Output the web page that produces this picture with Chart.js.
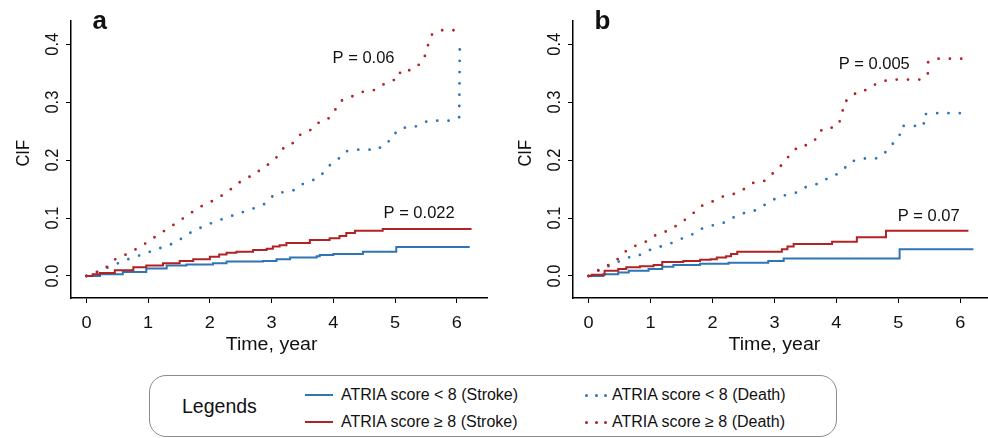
<!DOCTYPE html>
<html>
<head>
<meta charset="utf-8">
<script src="https://cdn.jsdelivr.net/npm/chart.js@4.4.0/dist/chart.umd.min.js"></script>
<style>
  body { margin: 0; background: #fff; }
  #wrap { position: relative; width: 988px; height: 438px; overflow: hidden; font-family: "Liberation Sans", Arial, sans-serif; color: #111; }
  canvas { position: absolute; top: 0; }
  #legend { position: absolute; left: 149px; top: 375px; width: 686px; height: 60px; border: 1px solid #8c8c8c; border-radius: 17px; }
  .lg { position: absolute; white-space: nowrap; line-height: 20px; }
  .ln { position: absolute; height: 2px; width: 28px; }
  .dot { position: absolute; width: 3px; height: 3px; border-radius: 50%; }
</style>
</head>
<body>
<div id="wrap">
  <canvas id="chartA" width="494" height="360" style="left:0"></canvas>
  <canvas id="chartB" width="486" height="360" style="left:502px"></canvas>
  <div id="legend"></div>
</div>
<script>
// axis ticks
const xTicks = [0, 1, 2, 3, 4, 5, 6];
const yTicks = [0, 0.1, 0.2, 0.3, 0.4];
const yTickLabels = ['0.0', '0.1', '0.2', '0.3', '0.4'];
const seriesNames = ['ATRIA score < 8 (Stroke)', 'ATRIA score \u2265 8 (Stroke)', 'ATRIA score < 8 (Death)', 'ATRIA score \u2265 8 (Death)'];
const blue = '#2e75b6';
const red = '#b22222';

// panel a, [time, CIF]
const aStrokeLow = [[0,0],[0.22,0.003],[0.59,0.007],[0.97,0.013],[1.3,0.018],[1.62,0.020],[2.05,0.022],[2.27,0.025],[2.86,0.026],[3.08,0.029],[3.3,0.032],[3.73,0.034],[3.78,0.036],[4.0,0.038],[4.48,0.042],[5.02,0.050],[6.21,0.050]];
const aStrokeHigh = [[0,0],[0.1,0.003],[0.22,0.005],[0.46,0.010],[0.76,0.015],[0.97,0.018],[1.24,0.022],[1.51,0.026],[1.73,0.029],[2.0,0.033],[2.15,0.037],[2.27,0.040],[2.43,0.042],[2.7,0.045],[2.92,0.047],[3.02,0.051],[3.13,0.053],[3.24,0.057],[3.62,0.062],[3.94,0.065],[4.1,0.069],[4.21,0.074],[4.35,0.078],[4.8,0.081],[6.24,0.081]];
const aDeathLow = [[0,0],[0.38,0.016],[0.65,0.028],[0.93,0.038],[1.19,0.048],[1.43,0.057],[1.69,0.075],[1.94,0.088],[2.2,0.098],[2.47,0.108],[2.72,0.117],[2.88,0.124],[2.97,0.133],[3.06,0.142],[3.21,0.145],[3.36,0.148],[3.47,0.157],[3.6,0.163],[3.74,0.168],[3.83,0.177],[3.91,0.188],[4.01,0.197],[4.12,0.205],[4.2,0.215],[4.36,0.218],[4.73,0.218],[4.81,0.229],[4.94,0.234],[5.01,0.247],[5.11,0.256],[5.29,0.256],[5.42,0.262],[5.54,0.268],[5.91,0.268],[6.04,0.274],[6.05,0.404],[6.09,0.404]];
const aDeathHigh = [[0,0],[0.27,0.010],[0.47,0.029],[0.72,0.041],[0.94,0.055],[1.16,0.071],[1.38,0.086],[1.6,0.102],[1.82,0.118],[2.07,0.131],[2.29,0.145],[2.45,0.160],[2.62,0.169],[2.72,0.179],[2.85,0.183],[2.95,0.193],[3.05,0.202],[3.14,0.211],[3.21,0.224],[3.34,0.229],[3.42,0.240],[3.52,0.248],[3.66,0.253],[3.75,0.264],[3.89,0.268],[3.98,0.279],[4.05,0.290],[4.12,0.302],[4.25,0.307],[4.38,0.314],[4.51,0.319],[4.68,0.321],[4.79,0.329],[4.9,0.336],[5.06,0.340],[5.09,0.355],[5.27,0.355],[5.38,0.364],[5.47,0.373],[5.5,0.388],[5.55,0.403],[5.6,0.417],[5.73,0.424],[6.09,0.424]];

// panel b
const bStrokeLow = [[0,0],[0.24,0.003],[0.48,0.006],[0.65,0.009],[0.97,0.012],[1.19,0.016],[1.37,0.019],[1.8,0.021],[2.26,0.023],[2.9,0.026],[3.15,0.030],[5.02,0.046],[6.21,0.046]];
const bStrokeHigh = [[0,0],[0.05,0.002],[0.26,0.009],[0.48,0.012],[0.61,0.015],[0.83,0.017],[1.05,0.019],[1.19,0.024],[1.53,0.026],[1.8,0.028],[1.97,0.029],[2.07,0.032],[2.22,0.034],[2.3,0.038],[2.4,0.042],[3.12,0.046],[3.21,0.051],[3.31,0.055],[3.93,0.059],[4.33,0.067],[4.8,0.078],[6.13,0.078]];
const bDeathLow = [[0,0],[0.11,0.007],[0.23,0.015],[0.37,0.018],[0.49,0.025],[0.63,0.032],[0.78,0.033],[0.9,0.041],[1.04,0.047],[1.17,0.051],[1.3,0.055],[1.43,0.061],[1.56,0.067],[1.68,0.072],[1.81,0.081],[1.94,0.085],[2.08,0.090],[2.23,0.093],[2.34,0.101],[2.48,0.108],[2.62,0.110],[2.75,0.116],[2.86,0.124],[2.97,0.131],[3.09,0.137],[3.24,0.141],[3.39,0.145],[3.5,0.153],[3.64,0.157],[3.78,0.162],[3.88,0.171],[4.02,0.176],[4.12,0.184],[4.2,0.195],[4.33,0.201],[4.48,0.203],[4.66,0.203],[4.77,0.211],[4.86,0.222],[4.94,0.232],[5.02,0.243],[5.05,0.259],[5.41,0.259],[5.41,0.279],[5.57,0.281],[6.12,0.281]];
const bDeathHigh = [[0,0],[0.12,0.006],[0.23,0.015],[0.35,0.020],[0.47,0.029],[0.56,0.038],[0.65,0.048],[0.78,0.053],[0.91,0.058],[1.02,0.067],[1.15,0.074],[1.29,0.078],[1.39,0.085],[1.5,0.092],[1.61,0.102],[1.71,0.110],[1.8,0.120],[1.94,0.125],[2.06,0.132],[2.19,0.138],[2.33,0.141],[2.46,0.146],[2.57,0.155],[2.68,0.162],[2.84,0.164],[2.94,0.174],[3.03,0.182],[3.13,0.193],[3.21,0.204],[3.3,0.213],[3.38,0.224],[3.54,0.226],[3.65,0.234],[3.71,0.247],[3.81,0.256],[3.98,0.256],[4.06,0.268],[4.1,0.284],[4.12,0.300],[4.24,0.307],[4.33,0.318],[4.48,0.321],[4.59,0.329],[4.71,0.334],[4.85,0.339],[5.39,0.339],[5.48,0.350],[5.48,0.369],[5.61,0.375],[6.03,0.375]];

// p-value labels: [text, time, CIF] of text anchor
const pLabelsA = [['P = 0.06', 4.49, 0.368], ['P = 0.022', 5.39, 0.0995]];
const pLabelsB = [['P = 0.005', 4.61, 0.357], ['P = 0.07', 5.49, 0.0948]];

const FONT = '"Liberation Sans", Arial, sans-serif';

function toPts(arr) {
    return arr.map(p => ({ x: p[0], y: p[1] }));
}

// each stroke point holds its value from that time on
function solid(arr, color) {
    return { data: toPts(arr), borderColor: color, borderWidth: 2, stepped: 'before', pointRadius: 0, fill: false };
}

function dotted(arr, color) {
    return { data: toPts(arr), borderColor: color, borderWidth: 2.8, borderDash: [0, 11.3], borderCapStyle: 'round', pointRadius: 0, fill: false, tension: 0 };
}

function txt(ctx, s, x, y, sx, rot) {
    ctx.save();
    ctx.translate(x, y);
    ctx.scale(sx, 1);
    if (rot) ctx.rotate(-Math.PI / 2);
    ctx.fillText(s, 0, 0);
    ctx.restore();
}

const panelText = {
    id: 'panelText',
    afterDraw(chart, args, opts) {
        const ctx = chart.ctx;
        const xs = chart.scales.x, ys = chart.scales.y, area = chart.chartArea;
        ctx.save();
        ctx.fillStyle = '#111';
        ctx.textBaseline = 'alphabetic';
        ctx.textAlign = 'center';
        // x tick labels
        ctx.font = '16.5px ' + FONT;
        xTicks.forEach(v => txt(ctx, String(v), xs.getPixelForValue(v), area.bottom + 30, 1.1, false));
        // y tick labels (vertical)
        yTicks.forEach((v, i) => txt(ctx, yTickLabels[i], area.left - 12.7, ys.getPixelForValue(v), 1.12, true));
        // axis titles
        ctx.font = '17.5px ' + FONT;
        const midX = xs.getPixelForValue((xTicks[0] + xTicks[xTicks.length - 1]) / 2);
        txt(ctx, 'Time, year', midX, area.bottom + 52, 1.12, false);
        ctx.font = '16.5px ' + FONT;
        txt(ctx, 'CIF', area.left - 41.7, 153.3, 1.12, true);
        // p values
        ctx.font = '16.5px ' + FONT;
        opts.pLabels.forEach(p => txt(ctx, p[0], xs.getPixelForValue(p[1]), ys.getPixelForValue(p[2]), 1, false));
        // panel letter
        ctx.font = 'bold 26px ' + FONT;
        ctx.textAlign = 'left';
        txt(ctx, opts.letter, area.left + 21.5, 29.3, 1, false);
        ctx.restore();
    }
};

function makeChart(id, sets, xMax, padRight, letter, pLabels) {
    return new Chart(document.getElementById(id), {
        type: 'line',
        data: {
            datasets: [
                solid(sets[1], red),
                solid(sets[0], blue),
                dotted(sets[3], red),
                dotted(sets[2], blue)
            ]
        },
        options: {
            responsive: false,
            animation: false,
            devicePixelRatio: 1,
            layout: { padding: { top: 21, right: padRight, bottom: 0, left: 0 } },
            plugins: {
                legend: { display: false },
                tooltip: { enabled: false },
                panelText: { letter: letter, pLabels: pLabels }
            },
            scales: {
                x: {
                    type: 'linear',
                    min: -0.25,
                    max: xMax,
                    afterBuildTicks: s => { s.ticks = xTicks.map(v => ({ value: v })); },
                    afterFit: s => { s.height = 62; },
                    ticks: { display: false },
                    grid: { drawOnChartArea: false, drawTicks: true, tickLength: 5, color: '#000', lineWidth: 1 },
                    border: { display: true, color: '#000', width: 1.5 }
                },
                y: {
                    type: 'linear',
                    min: -0.038,
                    max: 0.44,
                    afterBuildTicks: s => { s.ticks = yTicks.map(v => ({ value: v })); },
                    afterFit: s => { s.width = 71; },
                    ticks: { display: false },
                    grid: { drawOnChartArea: false, drawTicks: true, tickLength: 5, color: '#000', lineWidth: 1 },
                    border: { display: true, color: '#000', width: 1.5 }
                }
            }
        },
        plugins: [panelText]
    });
}

makeChart('chartA', [aStrokeLow, aStrokeHigh, aDeathLow, aDeathHigh], 6.49, 7, 'a', pLabelsA);
makeChart('chartB', [bStrokeLow, bStrokeHigh, bDeathLow, bDeathHigh], 6.43, 1, 'b', pLabelsB);

// legend box
const legend = document.getElementById('legend');
const colors = [blue, red, blue, red];
let html = '<div class="lg" style="left:32px;top:20px;font-size:19.5px">Legends</div>';
seriesNames.forEach((name, i) => {
    const row = i % 2;
    const col = Math.floor(i / 2);
    const cy = row === 0 ? 19 : 46;
    if (col === 0) {
        html += '<div class="ln" style="left:155px;top:' + (cy - 1) + 'px;background:' + colors[i] + '"></div>';
        html += '<div class="lg" style="left:191px;top:' + (cy - 10) + 'px;font-size:16px">' + name + '</div>';
    } else {
        [435, 445, 454].forEach(dx => {
            html += '<div class="dot" style="left:' + dx + 'px;top:' + (cy - 1.5) + 'px;background:' + colors[i] + '"></div>';
        });
        html += '<div class="lg" style="left:462px;top:' + (cy - 10) + 'px;font-size:16px">' + name + '</div>';
    }
});
legend.innerHTML = html;
</script>
</body>
</html>
